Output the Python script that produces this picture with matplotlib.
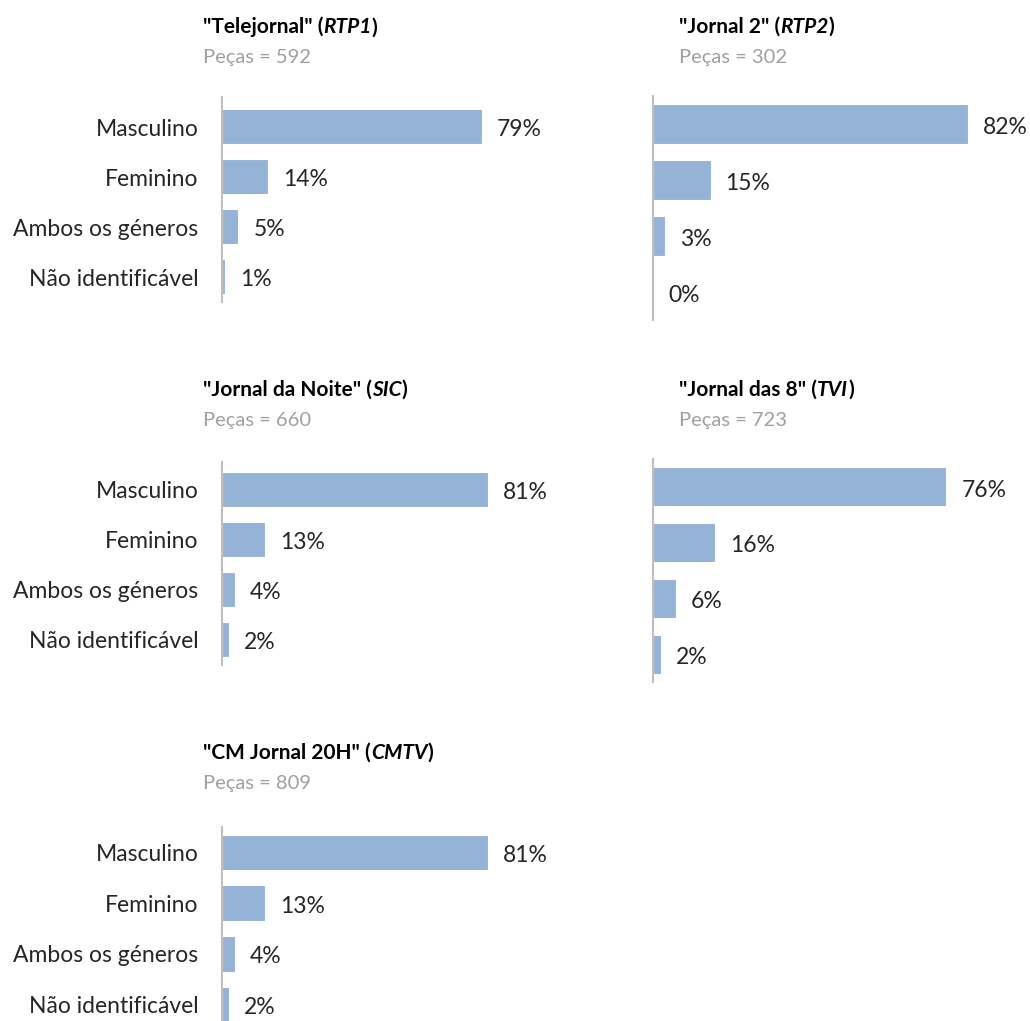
import matplotlib
matplotlib.use("Agg")
import matplotlib.pyplot as plt

plt.rcParams["font.family"] = ["Lato", "DejaVu Sans"]

# categories (top to bottom)
categories = ["Masculino", "Feminino", "Ambos os géneros", "Não identificável"]

# news programmes
programmes = ['"Telejornal"', '"Jornal 2"', '"Jornal da Noite"', '"Jornal das 8"', '"CM Jornal 20H"']
channels = ["RTP1", "RTP2", "SIC", "TVI", "CMTV"]
pieces = [592, 302, 660, 723, 809]

# percentages per programme
rtp1 = [79, 14, 5, 1]
rtp2 = [82, 15, 3, 0]
sic = [81, 13, 4, 2]
tvi = [76, 16, 6, 2]
cmtv = [81, 13, 4, 2]
values = [rtp1, rtp2, sic, tvi, cmtv]

BAR = "#95B3D7"
TEXT = "#262626"
GREY = "#A0A0A0"
W, H = 1030, 1021

# panel layout in pixels: axis x, spine top, spine bottom, px per %, top pad (rows), title pos, labels
panels = [
    dict(x0=222, top=97, bottom=302, scale=3.29, pad=0.6, tx=203, ty=27, labels=True),
    dict(x0=653, top=96, bottom=320, scale=3.84, pad=0.5, tx=679, ty=27, labels=False),
    dict(x0=222, top=462, bottom=665, scale=3.28, pad=0.55, tx=203, ty=390, labels=True),
    dict(x0=653, top=459, bottom=682, scale=3.86, pad=0.5, tx=679, ty=390, labels=False),
    dict(x0=222, top=827, bottom=1030, scale=3.28, pad=0.5, tx=203, ty=753, labels=True),
]

fig = plt.figure(figsize=(W / 100, H / 100), dpi=100)

for i, p in enumerate(panels):
    width_px = 330
    ax = fig.add_axes([p["x0"] / W, 1 - p["bottom"] / H, width_px / W, (p["bottom"] - p["top"]) / H])
    n = len(categories)
    ys = list(range(n))
    ax.barh(ys, values[i], height=0.7, color=BAR, edgecolor="white", linewidth=0.8)
    ax.set_xlim(0, width_px / p["scale"])
    ax.set_ylim(n - 0.5, -p["pad"])
    for y, v in zip(ys, values[i]):
        ax.text(v + 15 / p["scale"], y + 0.06, f"{v}%", va="center", ha="left", fontsize=16.5, color=TEXT)
    for s in ["top", "right", "bottom"]:
        ax.spines[s].set_visible(False)
    ax.spines["left"].set_color("#BFBFBF")
    ax.spines["left"].set_linewidth(1.5)
    ax.set_xticks([])
    ax.tick_params(axis="y", length=0, pad=17)
    if p["labels"]:
        ax.set_yticks(ys)
        ax.set_yticklabels(categories, fontsize=16.5, color=TEXT)
    else:
        ax.set_yticks([])

    # title: programme name (bold) + channel (bold italic) in brackets
    t1 = fig.text(p["tx"] / W, 1 - p["ty"] / H, programmes[i] + " (", fontsize=15,
                  fontweight="bold", color="black", va="center", ha="left")
    t2 = ax.annotate(channels[i], xy=(1, 0), xycoords=t1, va="bottom", ha="left",
                     fontsize=15, fontweight="bold", fontstyle="italic", color="black",
                     annotation_clip=False)
    ax.annotate(")", xy=(1, 0), xycoords=t2, va="bottom", ha="left",
                fontsize=15, fontweight="bold", color="black", annotation_clip=False)
    fig.text(p["tx"] / W, 1 - (p["ty"] + 30) / H, f"Peças = {pieces[i]}", fontsize=14.5,
             color=GREY, va="center", ha="left")

fig.savefig("out.png", dpi=100, facecolor="white")
